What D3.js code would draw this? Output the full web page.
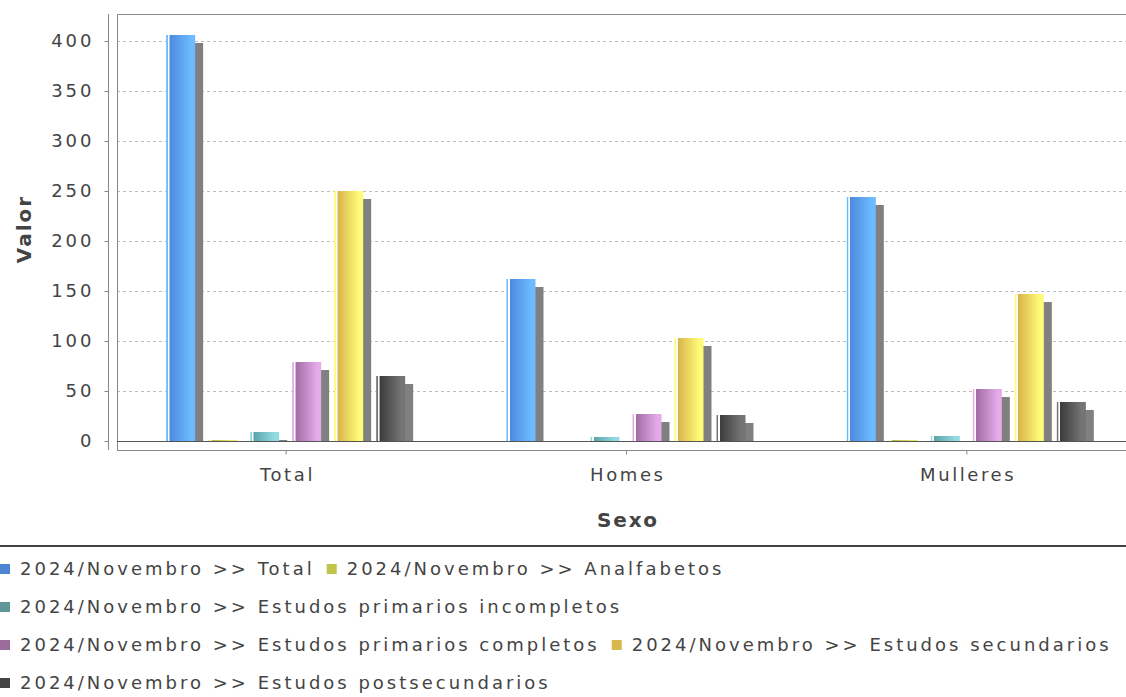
<!DOCTYPE html>
<html>
<head>
<meta charset="utf-8">
<script src="https://cdn.jsdelivr.net/npm/d3@7"></script>
<style>
  body { margin: 0; background: #fff; }
  svg { font-family: "DejaVu Sans", sans-serif; }
</style>
</head>
<body>
<svg id="chart" width="1126" height="697"></svg>
<script>
// categories on the x axis
var categories = ["Total", "Homes", "Mulleres"]
var seriesNames = [
  "2024/Novembro >> Total",
  "2024/Novembro >> Analfabetos",
  "2024/Novembro >> Estudos primarios incompletos",
  "2024/Novembro >> Estudos primarios completos",
  "2024/Novembro >> Estudos secundarios",
  "2024/Novembro >> Estudos postsecundarios"
]
// one array per series, in category order
var valTotal = [406, 162, 244]
var valAnalfabetos = [1, 0, 1]
var valIncompletos = [9, 4, 5]
var valCompletos = [79, 27, 52]
var valSecundarios = [250, 103, 147]
var valPostsecundarios = [65, 26, 39]
var yTicks = [0, 50, 100, 150, 200, 250, 300, 350, 400]

var seriesValues = [valTotal, valAnalfabetos, valIncompletos, valCompletos, valSecundarios, valPostsecundarios]
// [legend, dark, light]
var colors = [
  ["#4a86d4", "#4c8ade", "#6cbaff"],
  ["#c0c44c", "#b8b840", "#e8ec70"],
  ["#5f9696", "#58a4aa", "#94dae2"],
  ["#9c6c9c", "#a06ca4", "#e4aaea"],
  ["#d8b84c", "#d8b44a", "#fffa78"],
  ["#444444", "#3c3c3c", "#747474"]
]

var svg = d3.select("#chart")
var defs = svg.append("defs")

colors.forEach(function (c, i) {
  var gr = defs.append("linearGradient").attr("id", "grad" + i)
    .attr("x1", "0%").attr("x2", "100%").attr("y1", "0%").attr("y2", "0%")
  gr.append("stop").attr("offset", "0%").attr("stop-color", c[2])
  gr.append("stop").attr("offset", "5%").attr("stop-color", c[2])
  gr.append("stop").attr("offset", "6%").attr("stop-color", "#ffffff")
  gr.append("stop").attr("offset", "11%").attr("stop-color", "#ffffff")
  gr.append("stop").attr("offset", "12%").attr("stop-color", c[1])
  gr.append("stop").attr("offset", "85%").attr("stop-color", c[2])
  gr.append("stop").attr("offset", "100%").attr("stop-color", c[2])
})

var plotLeft = 117, plotTop = 14, plotRight = 1137

var x = d3.scaleBand().domain(categories).range([116, 1137]).padding(0)
var y = d3.scaleLinear().domain([0, 400]).range([441, 41])

// inner scale for the six series within a group
var inner = d3.scaleBand().domain(d3.range(6)).range([-120, 119]).paddingInner(0.31).paddingOuter(0)

// gridlines
svg.append("g").selectAll("line").data(yTicks.filter(function (d) { return d > 0 }))
  .enter().append("line")
  .attr("x1", plotLeft).attr("x2", plotRight)
  .attr("y1", function (d) { return y(d) + 0.5 }).attr("y2", function (d) { return y(d) + 0.5 })
  .attr("stroke", "#bdbdbd").attr("stroke-width", 1).attr("stroke-dasharray", "3,3")

// plot outline (left and top)
svg.append("path")
  .attr("d", "M" + (plotLeft + 0.5) + "," + 450 + "V" + (plotTop + 0.5) + "H" + plotRight)
  .attr("fill", "none").attr("stroke", "#888").attr("stroke-width", 1)

// bars
var bars = []
categories.forEach(function (cat, ci) {
  seriesValues.forEach(function (vals, si) {
    bars.push({ cat: cat, s: si, v: vals[ci] })
  })
})

var gBars = svg.append("g")
var shadowOff = 8
gBars.selectAll(".shadow").data(bars).enter().append("rect")
  .attr("class", "shadow")
  .attr("x", function (d) { return x(d.cat) + x.bandwidth() / 2 + inner(d.s) + shadowOff })
  .attr("y", function (d) { return Math.min(y(d.v) + shadowOff, y(0)) })
  .attr("width", inner.bandwidth())
  .attr("height", function (d) { return Math.max(0, y(0) - y(d.v) - shadowOff) })
  .attr("fill", "#808080")

gBars.selectAll(".bar").data(bars).enter().append("rect")
  .attr("class", "bar")
  .attr("x", function (d) { return x(d.cat) + x.bandwidth() / 2 + inner(d.s) })
  .attr("y", function (d) { return y(d.v) })
  .attr("width", inner.bandwidth())
  .attr("height", function (d) { return y(0) - y(d.v) })
  .attr("fill", function (d) { return "url(#grad" + d.s + ")" })

// zero line
svg.append("line")
  .attr("x1", plotLeft).attr("x2", plotRight)
  .attr("y1", y(0) + 0.5).attr("y2", y(0) + 0.5)
  .attr("stroke", "#555").attr("stroke-width", 1)

// y axis
var yAxis = d3.axisLeft(y).tickValues(yTicks).tickSize(4).tickPadding(10)
var gy = svg.append("g").attr("transform", "translate(108.5,0)").call(yAxis)
gy.select(".domain").attr("d", "M-0," + plotTop + "V450").attr("stroke", "#888")
gy.selectAll(".tick line").attr("stroke", "#888")
gy.selectAll("text").attr("font-size", 18).attr("fill", "#444")
  .attr("font-family", "DejaVu Sans, sans-serif").attr("letter-spacing", 3)

// x axis
var xAxis = d3.axisBottom(x).tickSize(4).tickPadding(14)
var gx = svg.append("g").attr("transform", "translate(0,450.5)").call(xAxis)
gx.select(".domain").attr("d", "M" + plotLeft + ",0H" + plotRight).attr("stroke", "#888")
gx.selectAll(".tick line").attr("stroke", "#888")
gx.selectAll("text").attr("font-size", 18).attr("fill", "#444")
  .attr("font-family", "DejaVu Sans, sans-serif").attr("letter-spacing", 2.6).attr("dx", 1.3)

// axis titles
svg.append("text").attr("transform", "translate(31,229) rotate(-90)")
  .attr("text-anchor", "middle").attr("font-size", 20).attr("font-weight", "bold")
  .attr("letter-spacing", 2).attr("fill", "#444").text("Valor")
svg.append("text").attr("x", 628).attr("y", 527)
  .attr("text-anchor", "middle").attr("font-size", 20).attr("font-weight", "bold")
  .attr("letter-spacing", 1.8).attr("fill", "#444").text("Sexo")

// legend border
svg.append("line").attr("x1", 0).attr("x2", 1126).attr("y1", 546).attr("y2", 546)
  .attr("stroke", "#444").attr("stroke-width", 2)

// legend, flowed left to right
var legend = svg.append("g")
var lx = 0, row = 0, rowY = [569, 607, 645, 683]
seriesNames.forEach(function (name, i) {
  var item = legend.append("g")
  item.append("rect").attr("width", 10).attr("height", 10).attr("y", -5)
    .attr("fill", colors[i][0])
  var t = item.append("text").attr("x", 20).attr("y", 0).attr("dy", "0.35em")
    .attr("font-size", 18).attr("fill", "#444").attr("letter-spacing", 3)
    .text(name)
  var w = 20 + t.node().getComputedTextLength() + 12
  if (lx > 0 && lx + w - 12 > 1126) { lx = 0; row++ }
  item.attr("transform", "translate(" + lx + "," + rowY[row] + ")")
  lx += w
})
</script>
</body>
</html>
